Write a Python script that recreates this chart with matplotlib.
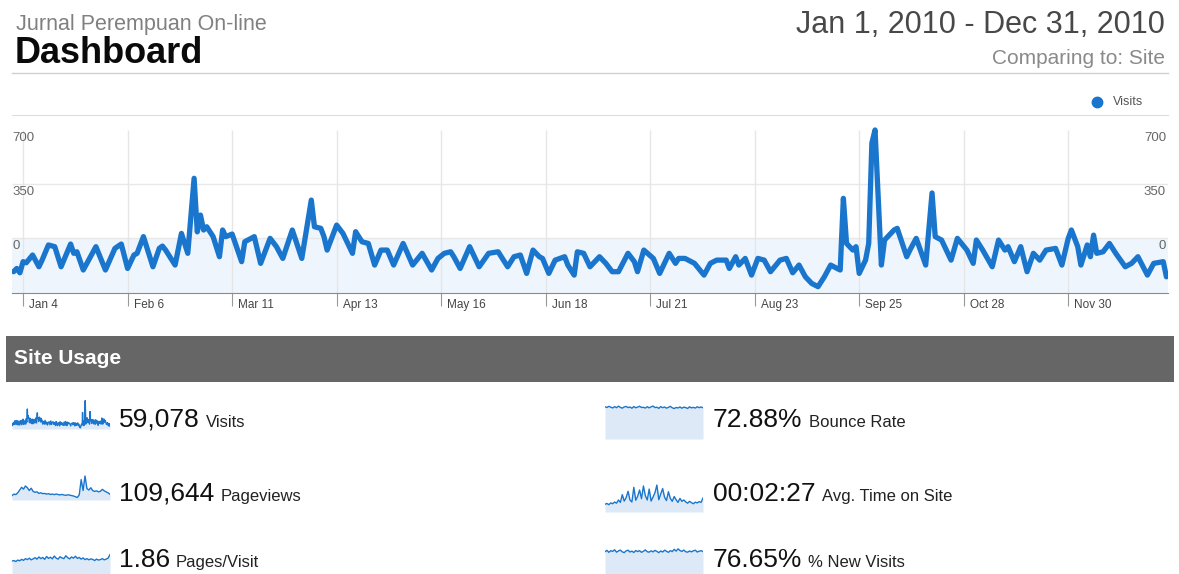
import matplotlib
matplotlib.use("Agg")
import matplotlib.pyplot as plt
import numpy as np
from matplotlib.patches import Rectangle
from matplotlib.lines import Line2D
from matplotlib.transforms import ScaledTranslation

W, H, DPI = 1179, 574, 100

# ---------------- data ----------------
site_name = "Jurnal Perempuan On-line"
page_title = "Dashboard"
date_range = "Jan 1, 2010 - Dec 31, 2010"
comparing = "Comparing to: Site"
series_name = "Visits"

visit_days = [0, 1, 2, 3, 4, 6, 8, 9, 11, 13, 15, 18, 19, 20, 22, 26, 29, 32, 34, 36,
              38, 39, 41, 43, 44, 46, 47, 48, 51, 53, 55, 57, 58, 59, 60, 61, 63, 65, 66, 67,
              69, 72, 73, 76, 78, 81, 83, 85, 88, 91, 94, 95, 97, 98, 99, 102, 104, 107, 108, 110,
              112, 114, 116, 118, 120, 123, 126, 129, 132, 134, 136, 138, 139, 141, 144, 147, 150, 153, 156, 158,
              160, 162, 164, 166, 167, 169, 171, 174, 175, 177, 178, 180, 182, 185, 187, 189, 191, 194, 196, 197,
              199, 202, 204, 207, 209, 210, 212, 215, 218, 220, 222, 225, 226, 228, 229, 231, 233, 235, 237, 239,
              242, 244, 246, 248, 250, 252, 254, 256, 258, 260, 261, 262, 263, 264, 265, 266, 267, 269, 270, 271,
              272, 274, 275, 278, 279, 282, 283, 285, 288, 290, 291, 293, 296, 298, 301, 303, 304, 306, 309, 311,
              313, 314, 316, 318, 320, 322, 324, 326, 329, 331, 333, 334, 336, 337, 339, 340, 341, 342, 344, 346,
              348, 351, 353, 355, 358, 360, 363, 364]
visit_values = [-218, -197, -225, -153, -160, -110, -186, -143, -45, -56, -186, -39, -99, -89, -207, -56, -207, -67, -39, -197,
                -110, -99, 9, -121, -186, -67, -52, -78, -175, 30, -99, 387, 40, 149, 52, 73, 9, -121, 52, 9,
                26, -153, -24, 9, -164, -2, -56, -132, 52, -132, 246, 73, 63, 9, -78, 84, 30, -99, 41, -24,
                -35, -175, -78, -78, -175, -35, -175, -99, -207, -132, -99, -89, -121, -197, -56, -186, -99, -89, -186, -121,
                -110, -229, -78, -121, -132, -229, -143, -121, -175, -240, -89, -99, -186, -121, -164, -218, -218, -99, -153, -218,
                -78, -132, -229, -99, -164, -132, -132, -164, -240, -164, -143, -143, -197, -121, -175, -132, -240, -132, -143, -218,
                -143, -132, -225, -175, -251, -294, -315, -251, -175, -197, -207, 257, -35, -56, -78, -56, -229, -143, -35, 616,
                700, -175, -13, 52, 63, -121, -78, -2, -175, 292, 9, -13, -143, -2, -78, -164, -13, -78, -186, -13,
                -78, -56, -153, -56, -218, -99, -143, -78, -67, -175, -2, 52, -56, -175, -45, -121, 19, -99, -89, -35,
                -99, -186, -164, -121, -240, -164, -153, -251]

tick_days = [3, 36, 69, 102, 135, 168, 201, 234, 267, 300, 333]
tick_labels = ["Jan 4", "Feb 6", "Mar 11", "Apr 13", "May 16", "Jun 18",
               "Jul 21", "Aug 23", "Sep 25", "Oct 28", "Nov 30"]
y_ticks = [0, 350, 700]
y_tick_labels = ["0", "350", "700"]

section_title = "Site Usage"
metric_values_left = ["59,078", "109,644", "1.86"]
metric_names_left = ["Visits", "Pageviews", "Pages/Visit"]
metric_values_right = ["72.88%", "00:02:27", "76.65%"]
metric_names_right = ["Bounce Rate", "Avg. Time on Site", "% New Visits"]

pageviews_weekly = [205, 240, 230, 270, 330, 390, 350, 420, 380, 320, 370, 300, 280, 290, 255, 270, 250, 255,
                    240, 250, 232, 240, 228, 242, 230, 222, 234, 220, 214, 224, 218, 208, 198, 182, 165, 225,
                    560, 320, 640, 360, 330, 380, 318, 300, 312, 290, 302, 345, 312, 290, 268, 236]
pages_per_visit_weekly = [1.78, 1.80, 1.76, 1.82, 1.79, 1.85, 1.81, 1.88, 1.84, 1.90, 1.83, 1.87, 1.92,
                          1.86, 1.95, 1.88, 1.93, 1.85, 1.97, 1.89, 1.94, 1.87, 1.99, 1.90, 1.86, 1.96,
                          1.91, 1.88, 2.00, 1.92, 1.87, 1.95, 1.90, 1.98, 1.89, 1.93, 1.86, 1.91, 1.84,
                          1.88, 1.83, 1.87, 1.85, 1.80, 1.86, 1.82, 1.84, 1.88, 1.83, 1.86, 1.90, 2.05]
bounce_weekly = [73.6, 72.9, 74.1, 73.2, 72.4, 73.8, 72.7, 74.3, 73.0, 72.2, 73.5, 74.0, 72.8, 73.4,
                 72.1, 73.9, 72.6, 73.3, 74.2, 72.9, 73.1, 72.3, 73.7, 72.5, 73.6, 74.4, 72.8, 73.2,
                 72.0, 73.8, 72.7, 73.4, 72.2, 73.0, 74.1, 72.6, 71.8, 72.9, 72.4, 73.5, 72.1, 73.3,
                 72.8, 71.9, 73.6, 72.5, 73.0, 72.3, 73.7, 72.7, 73.4, 72.6]
avg_time_weekly = [118, 124, 115, 128, 122, 135, 126, 150, 132, 190, 142, 168, 215, 150, 135, 245, 148,
                   178, 225, 160, 255, 182, 150, 232, 142, 172, 205, 262, 152, 195, 236, 170, 146, 212,
                   162, 140, 176, 152, 132, 162, 140, 150, 136, 126, 140, 130, 122, 134, 128, 138, 132, 165]
new_visits_weekly = [76.2, 77.1, 75.8, 76.9, 76.4, 77.5, 75.9, 76.7, 77.3, 76.1, 75.6, 76.8, 77.2, 76.0,
                     76.6, 75.7, 77.0, 76.3, 76.9, 75.8, 76.5, 77.4, 76.2, 75.9, 76.8, 76.1, 77.1, 76.4,
                     75.6, 76.7, 76.0, 77.2, 76.5, 75.8, 76.9, 76.3, 77.8, 76.6, 78.1, 77.0, 76.4, 77.3,
                     76.2, 75.9, 76.7, 76.1, 76.8, 77.2, 76.0, 76.5, 76.9, 76.3]

# ---------------- style ----------------
BLUE = "#1a75cc"
FILL = "#eef5fc"
SPARK_FILL = "#dde9f6"
plt.rcParams["font.family"] = ["Liberation Sans", "DejaVu Sans"]

fig = plt.figure(figsize=(W / DPI, H / DPI), dpi=DPI)
fig.patch.set_facecolor("white")


def fx(x):
    return x / W


def fy(y):
    return 1 - y / H


def box(x0, y0, x1, y1):
    return [fx(x0), fy(y1), (x1 - x0) / W, (y1 - y0) / H]


# ---------------- header ----------------
fig.text(fx(16), fy(30), site_name, fontsize=15.5, color="#808080", va="baseline")
fig.text(fx(15), fy(63), page_title, fontsize=26, fontweight="bold", color="#0a0a0a", va="baseline")
fig.text(fx(1165), fy(33), date_range, fontsize=22, color="#484848", ha="right", va="baseline")
fig.text(fx(1165), fy(64), comparing, fontsize=15, color="#8a8a8a", ha="right", va="baseline")
fig.add_artist(Line2D([fx(12), fx(1168)], [fy(73), fy(73)], color="#d0d0d0", lw=1))

# legend
fig.add_artist(Line2D([fx(1097)], [fy(102)], marker="o", markersize=7.5, color=BLUE, linestyle="none"))
fig.text(fx(1113), fy(102), series_name, fontsize=9, color="#555555", va="center")

# ---------------- main chart ----------------
YMIN, YMAX = -356, 797
ax = fig.add_axes(box(12, 115, 1168, 293))
ax.set_xlim(-0.5, 364.5)
ax.set_ylim(YMIN, YMAX)
ax.axhspan(YMIN, 0, color=FILL, lw=0, zorder=0)
ax.fill_between(visit_days, visit_values, YMIN, color=FILL, lw=0, zorder=0)
ax.hlines([0, 350], -0.5, 364.5, color="#e8e8e8", lw=1, zorder=1)
ax.vlines(tick_days, YMIN, 700, color="#e6e6e6", lw=1, zorder=1)
ax.plot(visit_days, visit_values, color=BLUE, lw=3.8, solid_joinstyle="round",
        solid_capstyle="round", zorder=3)
for s in ["left", "right"]:
    ax.spines[s].set_visible(False)
ax.spines["top"].set_color("#dedede")
ax.spines["bottom"].set_color("#8a8a8a")
ax.set_yticks([])
ax.set_xticks(tick_days)
ax.set_xticklabels([])
ax.tick_params(axis="x", length=9.5, width=0.8, color="#999999", direction="out")

xtr = ax.get_xaxis_transform() + ScaledTranslation(6 / DPI, -12 / DPI, fig.dpi_scale_trans)
for d, lab in zip(tick_days, tick_labels):
    ax.text(d, 0, lab, transform=xtr, fontsize=8.5, color="#444444", ha="left", va="center")

ytl = ax.get_yaxis_transform() + ScaledTranslation(0, -8 / DPI, fig.dpi_scale_trans)
ytr = ax.get_yaxis_transform() + ScaledTranslation(-2 / DPI, -8 / DPI, fig.dpi_scale_trans)
for v, lab in zip(y_ticks, y_tick_labels):
    ax.text(0, v, lab, transform=ytl, ha="left", va="center", fontsize=9.5, color="#666666")
    ax.text(1, v, lab, transform=ytr, ha="right", va="center", fontsize=9.5, color="#666666")

# ---------------- site usage ----------------
fig.add_artist(Rectangle((fx(6), fy(382)), 1168 / W, 46 / H, color="#666666",
                         transform=fig.transFigure, lw=0))
fig.text(fx(14), fy(359), section_title, fontsize=15, fontweight="bold", color="white", va="center")


def spark(x0, y0, x1, y1, xs, ys, ylim):
    a = fig.add_axes(box(x0, y0, x1, y1))
    a.fill_between(xs, ys, ylim[0], color=SPARK_FILL, lw=0)
    a.plot(xs, ys, color=BLUE, lw=1.0)
    a.set_xlim(xs[0], xs[-1])
    a.set_ylim(*ylim)
    a.axis("off")
    return a


wk = np.arange(len(pageviews_weekly))
spark(12, 398, 110, 429, visit_days, visit_values, (YMIN, YMAX))
spark(12, 472, 110, 500, wk, pageviews_weekly, (110, 728))
spark(12, 551, 110, 578, np.arange(len(pages_per_visit_weekly)), pages_per_visit_weekly, (1.07, 2.2))
spark(605, 405, 703, 439, np.arange(len(bounce_weekly)), bounce_weekly, (40, 75.5))
spark(605, 480, 703, 512, np.arange(len(avg_time_weekly)), avg_time_weekly, (60, 300))
spark(605, 546, 703, 578, np.arange(len(new_visits_weekly)), new_visits_weekly, (58.75, 80))

rows_y = [427, 501, 567]
num_texts = []
for col_x, vals, names in [(119, metric_values_left, metric_names_left),
                           (713, metric_values_right, metric_names_right)]:
    for ry, v, n in zip(rows_y, vals, names):
        t = fig.text(fx(col_x), fy(ry), v, fontsize=19, color="#111111", va="baseline")
        num_texts.append((t, ry, n))

fig.canvas.draw()
r = fig.canvas.get_renderer()
for t, ry, n in num_texts:
    bb = t.get_window_extent(r)
    fig.text(bb.x1 / W + 6 / W, fy(ry), n, fontsize=12, color="#222222", va="baseline")

fig.savefig("out.png", dpi=DPI, facecolor="white")
